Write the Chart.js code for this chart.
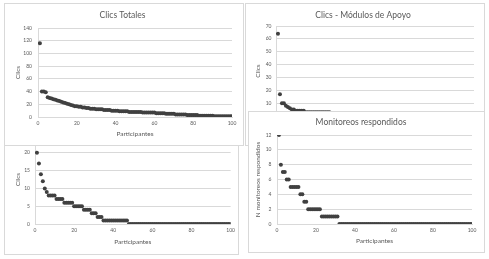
<!DOCTYPE html>
<html>
<head>
<meta charset="utf-8">
<script src="https://cdn.jsdelivr.net/npm/chart.js@4.4.1/dist/chart.umd.min.js"></script>
<style>
  html, body { margin: 0; padding: 0; background: #fff; }
  body { width: 489px; height: 259px; position: relative; overflow: hidden; }
  .panel { position: absolute; background: #fff; border: 1px solid #d9d9d9; box-sizing: border-box; }
  .panel canvas { display: block; }
</style>
</head>
<body>
<!-- el orden importa: los paneles de abajo tapan parte de los de arriba -->
<div class="panel" style="left:245px;top:3px;width:240px;height:143px"><canvas id="c2" width="238" height="141"></canvas></div>
<div class="panel" style="left:248px;top:111px;width:237px;height:142px"><canvas id="c4" width="235" height="140"></canvas></div>
<div class="panel" style="left:4px;top:110px;width:235px;height:145px"><canvas id="c3" width="233" height="143"></canvas></div>
<div class="panel" style="left:4px;top:3px;width:240px;height:143px"><canvas id="c1" width="238" height="141"></canvas></div>

<script>
// Datos (participante 1..100, ordenados de mayor a menor)
const clicsTotales = [
    116, 40, 40, 39, 31, 30, 29, 28, 27, 26,
    25, 24, 23, 22, 21, 20, 19, 18, 17, 17,
    16, 16, 15, 15, 14, 14, 13, 13, 13, 12,
    12, 12, 12, 11, 11, 11, 11, 10, 10, 10,
    10, 9, 9, 9, 9, 9, 8, 8, 8, 8,
    8, 8, 8, 7, 7, 7, 7, 7, 7, 7,
    6, 6, 6, 6, 6, 5, 5, 5, 5, 5,
    4, 4, 4, 4, 4, 4, 3, 3, 3, 3,
    3, 3, 2, 2, 2, 2, 2, 2, 2, 2,
    1, 1, 1, 1, 1, 1, 1, 1, 1, 1
];
const clicsModulos = [
    64, 17, 10, 10, 8, 7, 6, 5, 5, 4,
    4, 4, 4, 4, 3, 3, 3, 3, 3, 3,
    3, 3, 3, 3, 3, 3, 3, 2, 2, 2,
    2, 2, 2, 2, 2, 2, 2, 2, 2, 2,
    2, 2, 2, 2, 2, 1, 1, 1, 1, 1,
    1, 1, 1, 1, 1, 1, 1, 1, 1, 1,
    1, 1, 1, 1, 1, 1, 1, 1, 1, 1,
    1, 1, 1, 1, 1, 0, 0, 0, 0, 0,
    0, 0, 0, 0, 0, 0, 0, 0, 0, 0,
    0, 0, 0, 0, 0, 0, 0, 0, 0, 0
];
const clicsOtros = [
    20, 17, 14, 12, 10, 9, 8, 8, 8, 8,
    7, 7, 7, 7, 6, 6, 6, 6, 6, 5,
    5, 5, 5, 5, 4, 4, 4, 4, 3, 3,
    3, 2, 2, 2, 1, 1, 1, 1, 1, 1,
    1, 1, 1, 1, 1, 1, 1, 0, 0, 0,
    0, 0, 0, 0, 0, 0, 0, 0, 0, 0,
    0, 0, 0, 0, 0, 0, 0, 0, 0, 0,
    0, 0, 0, 0, 0, 0, 0, 0, 0, 0,
    0, 0, 0, 0, 0, 0, 0, 0, 0, 0,
    0, 0, 0, 0, 0, 0, 0, 0, 0, 0
];
const monitoreos = [
    12, 8, 7, 7, 6, 6, 5, 5, 5, 5,
    5, 4, 4, 3, 3, 2, 2, 2, 2, 2,
    2, 2, 1, 1, 1, 1, 1, 1, 1, 1,
    1, 0, 0, 0, 0, 0, 0, 0, 0, 0,
    0, 0, 0, 0, 0, 0, 0, 0, 0, 0,
    0, 0, 0, 0, 0, 0, 0, 0, 0, 0,
    0, 0, 0, 0, 0, 0, 0, 0, 0, 0,
    0, 0, 0, 0, 0, 0, 0, 0, 0, 0,
    0, 0, 0, 0, 0, 0, 0, 0, 0, 0,
    0, 0, 0, 0, 0, 0, 0, 0, 0, 0
];
const ticksX = [0, 20, 40, 60, 80, 100];

const FUENTE = 'Lato, "Open Sans", sans-serif';
const GRIS_TEXTO = '#595959';
const GRIS_LINEA = '#d9d9d9';

function dibujarPanel(id, valores, o) {
    const puntos = valores.map((v, i) => ({ x: i + 1, y: v }));
    new Chart(document.getElementById(id), {
        type: 'scatter',
        data: {
            datasets: [{
                data: puntos,
                backgroundColor: '#404040',
                borderWidth: 0,
                pointRadius: 2,
                pointHoverRadius: 2
            }]
        },
        options: {
            responsive: false,
            animation: false,
            layout: { padding: o.padding },
            plugins: {
                legend: { display: false },
                tooltip: { enabled: false },
                title: {
                    display: !!o.titulo,
                    text: o.titulo,
                    color: GRIS_TEXTO,
                    font: { family: FUENTE, size: 8.5, weight: 'normal' },
                    padding: o.padTitulo
                }
            },
            scales: {
                x: {
                    min: 0, max: 100,
                    afterBuildTicks: (eje) => { eje.ticks = ticksX.map(v => ({ value: v })); },
                    ticks: { color: GRIS_TEXTO, font: { family: FUENTE, size: 5 }, padding: 3 },
                    grid: { display: false, drawTicks: false },
                    border: { color: GRIS_LINEA },
                    title: {
                        display: true, text: 'Participantes', color: GRIS_TEXTO,
                        font: { family: FUENTE, size: 6.5 }, padding: { top: 0, bottom: o.padTituloX }
                    },
                    afterFit: (eje) => { eje.height = o.altoX; }
                },
                y: {
                    min: 0, max: o.maxY,
                    ticks: { stepSize: o.pasoY, color: GRIS_TEXTO, font: { family: FUENTE, size: 5 }, padding: o.padTicksY },
                    grid: { color: GRIS_LINEA, drawTicks: false },
                    border: { color: GRIS_LINEA },
                    title: {
                        display: true, text: o.tituloY, color: GRIS_TEXTO,
                        font: { family: FUENTE, size: 6.5 }, padding: { top: o.padTituloY, bottom: 0 }
                    },
                    afterFit: (eje) => { eje.width = o.anchoY; }
                }
            }
        }
    });
}

dibujarPanel('c1', clicsTotales, {
    titulo: 'Clics Totales', padTitulo: { top: 6, bottom: 7.8 },
    padding: { left: 8, right: 11, top: 0, bottom: 0 },
    maxY: 140, pasoY: 20, tituloY: 'Clics',
    anchoY: 25, altoX: 28, padTicksY: 6, padTituloY: 1.5, padTituloX: 7
});
dibujarPanel('c2', clicsModulos, {
    titulo: 'Clics - Módulos de Apoyo', padTitulo: { top: 6, bottom: 5.8 },
    padding: { left: 6, right: 10, top: 0, bottom: 0 },
    maxY: 70, pasoY: 10, tituloY: 'Clics',
    anchoY: 24, altoX: 29, padTicksY: 4.5, padTituloY: 2.5, padTituloX: 7
});
dibujarPanel('c3', clicsOtros, {
    titulo: '', padTitulo: 0,
    padding: { left: 8, right: 6, top: 24, bottom: 0 },
    maxY: 25, pasoY: 5, tituloY: 'Clics',
    anchoY: 22, altoX: 30, padTicksY: 5, padTituloY: 1.5, padTituloX: 8.5
});
dibujarPanel('c4', monitoreos, {
    titulo: 'Monitoreos respondidos', padTitulo: { top: 5, bottom: 7.8 },
    padding: { left: 1, right: 12, top: 0, bottom: 0 },
    maxY: 12, pasoY: 2, tituloY: 'N monitoreos respondidos',
    anchoY: 27, altoX: 28, padTicksY: 5.5, padTituloY: 4, padTituloX: 7
});
</script>
</body>
</html>
